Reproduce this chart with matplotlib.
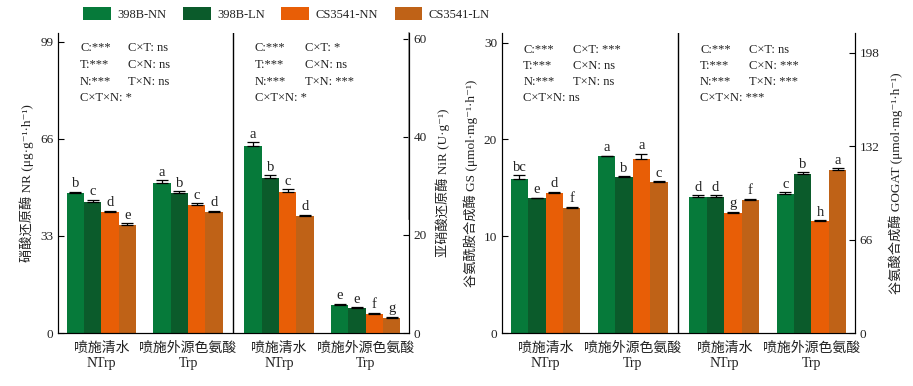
import numpy as np
import matplotlib
matplotlib.use('Agg')
import matplotlib.pyplot as plt
from matplotlib.patches import Patch

plt.rcParams['font.family'] = ['Liberation Serif', 'Noto Sans CJK SC', 'DejaVu Serif']

cultivars = ['398B-NN', '398B-LN', 'CS3541-NN', 'CS3541-LN']
colors = ['#067a3a', '#0b5b2b', '#e85e06', '#bf6217']
groups = ['喷施清水\nNTrp', '喷施外源色氨酸\nTrp', '喷施清水\nNTrp', '喷施外源色氨酸\nTrp']

# NR (left axis, panel 1)
nr_ntrp = [47.7, 44.6, 41.3, 36.7]
nr_ntrp_err = [0.4, 0.7, 0.3, 0.6]
nr_trp = [51.1, 47.6, 43.5, 41.3]
nr_trp_err = [0.8, 0.7, 0.7, 0.3]
nr_letters = [['b', 'c', 'd', 'e'], ['a', 'b', 'c', 'd']]

# NiR (right axis, panel 1)
nir_ntrp = [38.2, 31.6, 28.8, 23.9]
nir_ntrp_err = [0.7, 0.6, 0.55, 0.2]
nir_trp = [5.7, 5.1, 3.9, 3.1]
nir_trp_err = [0.3, 0.2, 0.25, 0.25]
nir_letters = [['a', 'b', 'c', 'd'], ['e', 'e', 'f', 'g']]

# GS (left axis, panel 2)
gs_ntrp = [15.96, 13.9, 14.5, 12.95]
gs_ntrp_err = [0.35, 0.1, 0.1, 0.1]
gs_trp = [18.24, 16.13, 17.93, 15.58]
gs_trp_err = [0.1, 0.05, 0.6, 0.1]
gs_letters = [['bc', 'e', 'd', 'f'], ['a', 'b', 'a', 'c']]

# GOGAT (right axis, panel 2)
gogat_ntrp = [96.0, 96.0, 84.9, 94.1]
gogat_ntrp_err = [1.2, 1.2, 0.7, 0.7]
gogat_trp = [98.3, 112.5, 79.2, 115.3]
gogat_trp_err = [1.4, 1.2, 0.7, 1.2]
gogat_letters = [['d', 'd', 'g', 'f'], ['c', 'b', 'h', 'a']]

stats1_left = [['C:***', 'C×T: ns'], ['T:***', 'C×N: ns'], ['N:***', 'T×N: ns'], ['C×T×N: *']]
stats1_right = [['C:***', 'C×T: *'], ['T:***', 'C×N: ns'], ['N:***', 'T×N: ***'], ['C×T×N: *']]
stats2_left = [['C:***', 'C×T: ***'], ['T:***', 'C×N: ns'], ['N:***', 'T×N: ns'], ['C×T×N: ns']]
stats2_right = [['C:***', 'C×T: ns'], ['T:***', 'C×N: ***'], ['N:***', 'T×N: ***'], ['C×T×N: ***']]

centers = [0, 1, 2.05, 3.05]
bw = 0.2
offsets = (np.arange(4) - 1.5) * bw
txt = '#222222'


def draw_group(ax, xc, vals, errs, letters):
    for i in range(4):
        ax.bar(xc + offsets[i], vals[i], bw, color=colors[i], edgecolor='none')
        ax.errorbar(xc + offsets[i], vals[i], yerr=[[0], [errs[i]]], color='black',
                    capsize=4, elinewidth=0.9, capthick=0.9, fmt='none')
        ax.annotate(letters[i], (xc + offsets[i], vals[i] + errs[i]), xytext=(0, 1),
                    textcoords='offset points', ha='center', va='bottom',
                    fontsize=10.5, color=txt)


def draw_stats(ax, rows, x1, x2, ys):
    for row, y in zip(rows, ys):
        ax.text(x1, y, row[0], transform=ax.transAxes, fontsize=9, va='center', color=txt)
        if len(row) > 1:
            ax.text(x2, y, row[1], transform=ax.transAxes, fontsize=9, va='center', color=txt)


def style(ax, tw, lticks, lmax, rticks, rmax, llabel, rlabel):
    ax.set_xlim(-0.5, 3.55)
    ax.set_ylim(0, lmax)
    tw.set_ylim(0, rmax)
    ax.set_yticks(lticks)
    tw.set_yticks(rticks)
    ax.set_xticks(centers)
    ax.set_xticklabels(groups, fontsize=10, color=txt, linespacing=1.25)
    ax.tick_params(axis='x', length=0, pad=6)
    ax.tick_params(axis='y', direction='in', length=4, labelsize=9.5, labelcolor=txt)
    tw.tick_params(axis='y', direction='in', length=4, labelsize=9.5, labelcolor=txt)
    for a in (ax, tw):
        a.spines['top'].set_visible(False)
    ax.axvline(1.52, color='black', lw=1)
    ax.set_ylabel(llabel, fontsize=9.5, color=txt, labelpad=4)
    tw.set_ylabel(rlabel, fontsize=9.5, color=txt, labelpad=6)


fig = plt.figure(figsize=(9.13, 3.86), dpi=100)

# panel 1
ax1 = fig.add_axes([58 / 913, 1 - 333 / 386, 351 / 913, 300 / 386])
tw1 = ax1.twinx()
draw_group(ax1, centers[0], nr_ntrp, nr_ntrp_err, nr_letters[0])
draw_group(ax1, centers[1], nr_trp, nr_trp_err, nr_letters[1])
draw_group(tw1, centers[2], nir_ntrp, nir_ntrp_err, nir_letters[0])
draw_group(tw1, centers[3], nir_trp, nir_trp_err, nir_letters[1])
style(ax1, tw1, [0, 33, 66, 99], 102, [0, 20, 40, 60], 61.2,
      '硝酸还原酶 NR (μg·g⁻¹·h⁻¹)', '亚硝酸还原酶 NiR (U·g⁻¹)')
tw1.plot([1, 1], [0.38, 1], transform=tw1.transAxes, color='#8a8a8a', lw=1.2, clip_on=False)
rows_y = [0.95, 0.893, 0.837, 0.783]
draw_stats(ax1, stats1_left, 0.063, 0.199, rows_y)
draw_stats(ax1, stats1_right, 0.561, 0.704, rows_y)

# panel 2
ax2 = fig.add_axes([502 / 913, 1 - 333 / 386, 353 / 913, 300 / 386])
tw2 = ax2.twinx()
draw_group(ax2, centers[0], gs_ntrp, gs_ntrp_err, gs_letters[0])
draw_group(ax2, centers[1], gs_trp, gs_trp_err, gs_letters[1])
draw_group(tw2, centers[2], gogat_ntrp, gogat_ntrp_err, gogat_letters[0])
draw_group(tw2, centers[3], gogat_trp, gogat_trp_err, gogat_letters[1])
style(ax2, tw2, [0, 10, 20, 30], 31, [0, 66, 132, 198], 212,
      '谷氨酰胺合成酶 GS (μmol·mg⁻¹·h⁻¹)', '谷氨酸合成酶 GOGAT (μmol·mg⁻¹·h⁻¹)')
rows_y2 = [0.943, 0.89, 0.837, 0.783]
draw_stats(ax2, stats2_left, 0.06, 0.201, rows_y2)
draw_stats(ax2, stats2_right, 0.561, 0.700, rows_y2)

handles = [Patch(facecolor=c, edgecolor='none') for c in colors]
fig.legend(handles, cultivars, loc='upper left', bbox_to_anchor=(72 / 913, 1.01),
           ncol=4, frameon=False, fontsize=9, handlelength=2.2, handleheight=1.15,
           columnspacing=1.3, handletextpad=0.55, labelcolor=txt)

fig.savefig('out.png', dpi=100)
